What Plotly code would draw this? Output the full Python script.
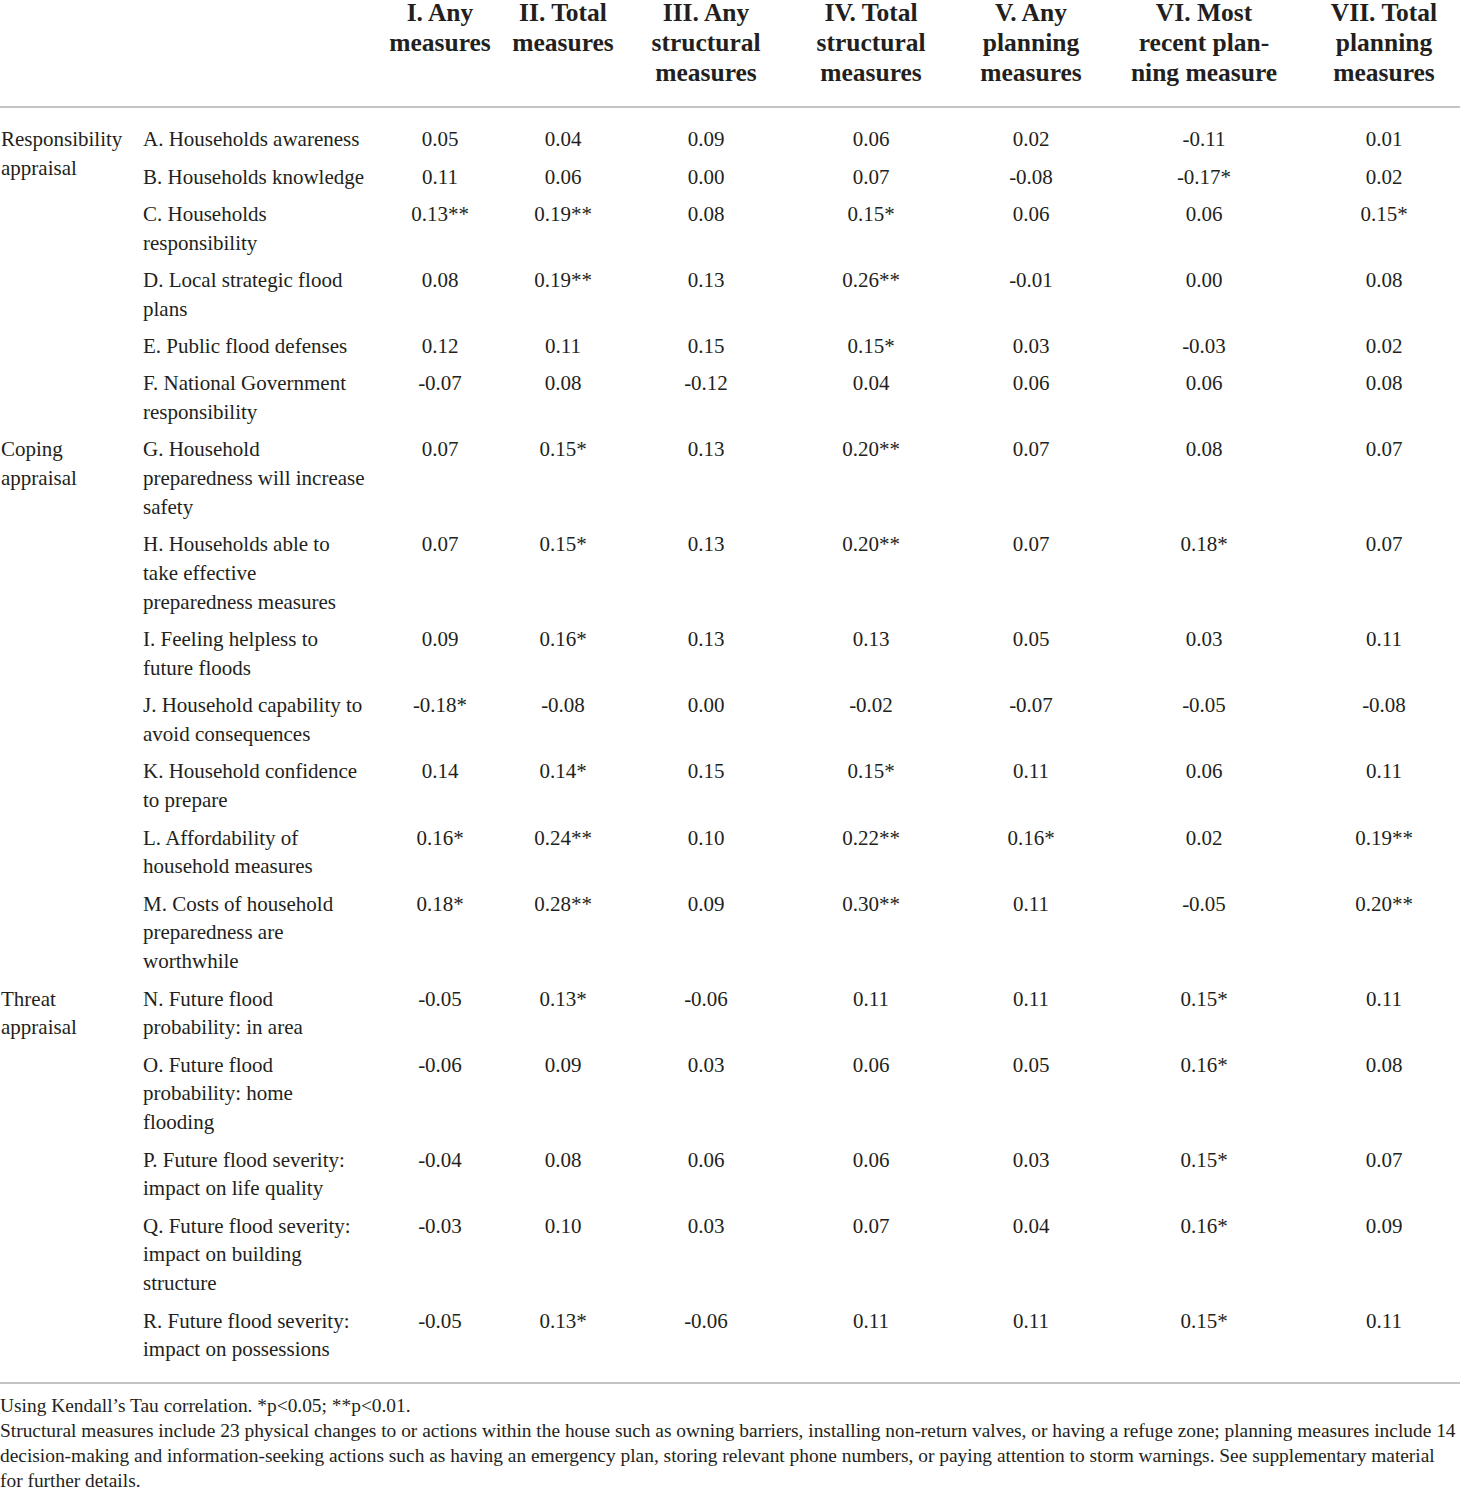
import plotly.graph_objects as go

# ---------------- data ----------------
headers = [
    ["I. Any", "measures"],
    ["II. Total", "measures"],
    ["III. Any", "structural", "measures"],
    ["IV. Total", "structural", "measures"],
    ["V. Any", "planning", "measures"],
    ["VI. Most", "recent plan-", "ning measure"],
    ["VII. Total", "planning", "measures"],
]

row_labels = [
    ["A. Households awareness"],
    ["B. Households knowledge"],
    ["C. Households", "responsibility"],
    ["D. Local strategic flood", "plans"],
    ["E. Public flood defenses"],
    ["F. National Government", "responsibility"],
    ["G. Household", "preparedness will increase", "safety"],
    ["H. Households able to", "take effective", "preparedness measures"],
    ["I. Feeling helpless to", "future floods"],
    ["J. Household capability to", "avoid consequences"],
    ["K. Household confidence", "to prepare"],
    ["L. Affordability of", "household measures"],
    ["M. Costs of household", "preparedness are", "worthwhile"],
    ["N. Future flood", "probability: in area"],
    ["O. Future flood", "probability: home", "flooding"],
    ["P. Future flood severity:", "impact on life quality"],
    ["Q. Future flood severity:", "impact on building", "structure"],
    ["R. Future flood severity:", "impact on possessions"],
]

# group label -> index of first row in the group
groups = [
    (["Responsibility", "appraisal"], 0),
    (["Coping", "appraisal"], 6),
    (["Threat", "appraisal"], 13),
]

col_I   = [0.05, 0.11, 0.13, 0.08, 0.12, -0.07, 0.07, 0.07, 0.09, -0.18, 0.14, 0.16, 0.18, -0.05, -0.06, -0.04, -0.03, -0.05]
sig_I   = ["", "", "**", "", "", "", "", "", "", "*", "", "*", "*", "", "", "", "", ""]
col_II  = [0.04, 0.06, 0.19, 0.19, 0.11, 0.08, 0.15, 0.15, 0.16, -0.08, 0.14, 0.24, 0.28, 0.13, 0.09, 0.08, 0.10, 0.13]
sig_II  = ["", "", "**", "**", "", "", "*", "*", "*", "", "*", "**", "**", "*", "", "", "", "*"]
col_III = [0.09, 0.00, 0.08, 0.13, 0.15, -0.12, 0.13, 0.13, 0.13, 0.00, 0.15, 0.10, 0.09, -0.06, 0.03, 0.06, 0.03, -0.06]
sig_III = [""] * 18
col_IV  = [0.06, 0.07, 0.15, 0.26, 0.15, 0.04, 0.20, 0.20, 0.13, -0.02, 0.15, 0.22, 0.30, 0.11, 0.06, 0.06, 0.07, 0.11]
sig_IV  = ["", "", "*", "**", "*", "", "**", "**", "", "", "*", "**", "**", "", "", "", "", ""]
col_V   = [0.02, -0.08, 0.06, -0.01, 0.03, 0.06, 0.07, 0.07, 0.05, -0.07, 0.11, 0.16, 0.11, 0.11, 0.05, 0.03, 0.04, 0.11]
sig_V   = ["", "", "", "", "", "", "", "", "", "", "", "*", "", "", "", "", "", ""]
col_VI  = [-0.11, -0.17, 0.06, 0.00, -0.03, 0.06, 0.08, 0.18, 0.03, -0.05, 0.06, 0.02, -0.05, 0.15, 0.16, 0.15, 0.16, 0.15]
sig_VI  = ["", "*", "", "", "", "", "", "*", "", "", "", "", "", "*", "*", "*", "*", "*"]
col_VII = [0.01, 0.02, 0.15, 0.08, 0.02, 0.08, 0.07, 0.07, 0.11, -0.08, 0.11, 0.19, 0.20, 0.11, 0.08, 0.07, 0.09, 0.11]
sig_VII = ["", "", "*", "", "", "", "", "", "", "", "", "**", "**", "", "", "", "", ""]

columns = [(col_I, sig_I), (col_II, sig_II), (col_III, sig_III), (col_IV, sig_IV),
           (col_V, sig_V), (col_VI, sig_VI), (col_VII, sig_VII)]

footnotes = [
    "Using Kendall’s Tau correlation. *p&lt;0.05; **p&lt;0.01.",
    "Structural measures include 23 physical changes to or actions within the house such as owning barriers, installing non-return valves, or having a refuge zone; planning measures include 14",
    "decision-making and information-seeking actions such as having an emergency plan, storing relevant phone numbers, or paying attention to storm warnings. See supplementary material",
    "for further details.",
]

# ---------------- layout constants ----------------
W, H = 1460, 1490
TXT = "#231f20"
RULE = "#c4c4c4"
FONT = "Liberation Serif"
col_x = [440, 563, 706, 871, 1031, 1204, 1384]
group_x = 1
label_x = 143
head_y0, head_lh = 15, 30
body_y0, body_lh, row_gap = 141, 28.8, 37.3
rule_top, rule_bot = 107, 1383
foot_y0, foot_lh = 1407, 25.2

# row start positions
row_y = []
y = body_y0
for lines in row_labels:
    row_y.append(y)
    y += (len(lines) - 1) * body_lh + row_gap

fig = go.Figure()

# headers
hx, hy, ht = [], [], []
for cx, lines in zip(col_x, headers):
    for i, t in enumerate(lines):
        hx.append(cx); hy.append(head_y0 + i * head_lh); ht.append(t)
fig.add_trace(go.Scatter(x=hx, y=hy, text=ht, mode="text", textposition="middle center",
                         cliponaxis=False,
                         textfont=dict(family=FONT, size=25.5, color=TXT, weight="bold"),
                         hoverinfo="skip", showlegend=False))

# row labels + group labels (left aligned)
lx, ly, lt = [], [], []
for ry, lines in zip(row_y, row_labels):
    for i, t in enumerate(lines):
        lx.append(label_x); ly.append(ry + i * body_lh); lt.append(t)
for lines, idx in groups:
    for i, t in enumerate(lines):
        lx.append(group_x); ly.append(row_y[idx] + i * body_lh); lt.append(t)
fig.add_trace(go.Scatter(x=lx, y=ly, text=lt, mode="text", textposition="middle right",
                         marker=dict(size=0), cliponaxis=False,
                         textfont=dict(family=FONT, size=21, color=TXT),
                         hoverinfo="skip", showlegend=False))

# values
vx, vy, vt = [], [], []
for cx, (vals, sigs) in zip(col_x, columns):
    for ry, v, s in zip(row_y, vals, sigs):
        vx.append(cx); vy.append(ry); vt.append(f"{v:.2f}{s}")
fig.add_trace(go.Scatter(x=vx, y=vy, text=vt, mode="text", textposition="middle center",
                         cliponaxis=False,
                         textfont=dict(family=FONT, size=21, color=TXT),
                         hoverinfo="skip", showlegend=False))

# footnotes
fx = [0] * len(footnotes)
fy = [foot_y0 + i * foot_lh for i in range(len(footnotes))]
fig.add_trace(go.Scatter(x=fx, y=fy, text=footnotes, mode="text", textposition="middle right",
                         marker=dict(size=0), cliponaxis=False,
                         textfont=dict(family=FONT, size=19.4, color=TXT),
                         hoverinfo="skip", showlegend=False))

# rules
for ry in (rule_top, rule_bot):
    fig.add_shape(type="line", xref="x", yref="y", x0=0, x1=W, y0=ry, y1=ry,
                  line=dict(color=RULE, width=2))

fig.update_layout(
    width=W, height=H, margin=dict(l=0, r=0, t=0, b=0),
    paper_bgcolor="white", plot_bgcolor="white",
    xaxis=dict(range=[0, W], visible=False, fixedrange=True),
    yaxis=dict(range=[H, 0], visible=False, fixedrange=True),
)

fig.write_html("out.html",
               config={"displayModeBar": False, "staticPlot": True},
               post_script="document.body.style.margin='0';document.body.style.overflow='hidden';")
